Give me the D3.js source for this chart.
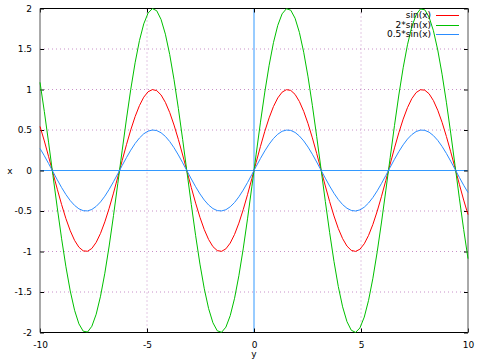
<!DOCTYPE html>
<html><head><meta charset="utf-8">
<script src="https://cdn.jsdelivr.net/npm/d3@7"></script>
<style>html,body{margin:0;padding:0;background:#fff;}svg{display:block;}</style>
</head><body>
<script>
const xs = [-10.000,-9.798,-9.596,-9.394,-9.192,-8.990,-8.788,-8.586,-8.384,-8.182,
-7.980,-7.778,-7.576,-7.374,-7.172,-6.970,-6.768,-6.566,-6.364,-6.162,
-5.960,-5.758,-5.556,-5.354,-5.152,-4.949,-4.747,-4.545,-4.343,-4.141,
-3.939,-3.737,-3.535,-3.333,-3.131,-2.929,-2.727,-2.525,-2.323,-2.121,
-1.919,-1.717,-1.515,-1.313,-1.111,-0.909,-0.707,-0.505,-0.303,-0.101,
0.101,0.303,0.505,0.707,0.909,1.111,1.313,1.515,1.717,1.919,
2.121,2.323,2.525,2.727,2.929,3.131,3.333,3.535,3.737,3.939,
4.141,4.343,4.545,4.747,4.949,5.152,5.354,5.556,5.758,5.960,
6.162,6.364,6.566,6.768,6.970,7.172,7.374,7.576,7.778,7.980,
8.182,8.384,8.586,8.788,8.990,9.192,9.394,9.596,9.798,10.000];

const sinValues = [0.544,0.365,0.170,-0.031,-0.231,-0.421,-0.595,-0.744,-0.863,-0.947,
-0.992,-0.997,-0.962,-0.887,-0.776,-0.634,-0.466,-0.279,-0.080,0.121,
0.318,0.502,0.665,0.801,0.905,0.972,0.999,0.986,0.933,0.841,
0.716,0.561,0.384,0.191,-0.010,-0.211,-0.403,-0.578,-0.730,-0.852,
-0.940,-0.989,-0.998,-0.967,-0.896,-0.789,-0.650,-0.484,-0.298,-0.101,
0.101,0.298,0.484,0.650,0.789,0.896,0.967,0.998,0.989,0.940,
0.852,0.730,0.578,0.403,0.211,0.010,-0.191,-0.384,-0.561,-0.716,
-0.841,-0.933,-0.986,-0.999,-0.972,-0.905,-0.801,-0.665,-0.502,-0.318,
-0.121,0.080,0.279,0.466,0.634,0.776,0.887,0.962,0.997,0.992,
0.947,0.863,0.744,0.595,0.421,0.231,0.031,-0.170,-0.365,-0.544];

const twoSinValues = [1.088,0.729,0.341,-0.062,-0.462,-0.843,-1.189,-1.488,-1.726,-1.893,
-1.984,-1.994,-1.923,-1.774,-1.552,-1.268,-0.932,-0.557,-0.161,0.243,
0.636,1.003,1.330,1.603,1.810,1.944,1.999,1.972,1.865,1.683,
1.432,1.122,0.767,0.381,-0.021,-0.421,-0.805,-1.156,-1.460,-1.705,
-1.880,-1.979,-1.997,-1.934,-1.792,-1.578,-1.299,-0.968,-0.597,-0.202,
0.202,0.597,0.968,1.299,1.578,1.792,1.934,1.997,1.979,1.880,
1.705,1.460,1.156,0.805,0.421,0.021,-0.381,-0.767,-1.122,-1.432,
-1.683,-1.865,-1.972,-1.999,-1.944,-1.810,-1.603,-1.330,-1.003,-0.636,
-0.243,0.161,0.557,0.932,1.268,1.552,1.774,1.923,1.994,1.984,
1.893,1.726,1.488,1.189,0.843,0.462,0.062,-0.341,-0.729,-1.088];

const halfSinValues = [0.272,0.182,0.085,-0.015,-0.115,-0.211,-0.297,-0.372,-0.431,-0.473,
-0.496,-0.499,-0.481,-0.443,-0.388,-0.317,-0.233,-0.139,-0.040,0.061,
0.159,0.251,0.333,0.401,0.453,0.486,0.500,0.493,0.466,0.421,
0.358,0.281,0.192,0.095,-0.005,-0.105,-0.201,-0.289,-0.365,-0.426,
-0.470,-0.495,-0.499,-0.484,-0.448,-0.395,-0.325,-0.242,-0.149,-0.050,
0.050,0.149,0.242,0.325,0.395,0.448,0.484,0.499,0.495,0.470,
0.426,0.365,0.289,0.201,0.105,0.005,-0.095,-0.192,-0.281,-0.358,
-0.421,-0.466,-0.493,-0.500,-0.486,-0.453,-0.401,-0.333,-0.251,-0.159,
-0.061,0.040,0.139,0.233,0.317,0.388,0.443,0.481,0.499,0.496,
0.473,0.431,0.372,0.297,0.211,0.115,0.015,-0.085,-0.182,-0.272];

const seriesNames = ["sin(x)", "2*sin(x)", "0.5*sin(x)"];
const xTickValues = [-10, -5, 0, 5, 10];
const xTickLabels = ["-10", "-5", "0", "5", "10"];
const yTickValues = [-2, -1.5, -1, -0.5, 0, 0.5, 1, 1.5, 2];
const yTickLabels = ["-2", "-1.5", "-1", "-0.5", "0", "0.5", "1", "1.5", "2"];
const xAxisTitle = "y";
const yAxisTitle = "x";

const W = 480, H = 360;
const FONT = "'DejaVu Sans', sans-serif";
const colors = ["#ff0000", "#00c000", "#2a8cff"];
const seriesData = [sinValues, twoSinValues, halfSinValues];
const legendItems = seriesNames.map((name, k) => ({ name: name, color: colors[k], row: k }));

const svg = d3.select("body").append("svg").attr("width", W).attr("height", H)
  .style("font-family", FONT).style("font-size", "9px");

const x = d3.scaleLinear().domain([-10, 10]).range([40, 468]);
const y = d3.scaleLinear().domain([-2, 2]).range([332.5, 8.5]);
const [x0, x1] = x.range();
const [yb, yt] = y.range();

// grid (dotted)
const grid = svg.append("g");
grid.selectAll("line.gx").data(xTickValues.filter(v => v !== -10 && v !== 10 && v !== 0))
  .join("line").attr("class", "gx").attr("x1", d => x(d)).attr("x2", d => x(d)).attr("y1", yt).attr("y2", yb)
  .attr("stroke", "#c890c8").attr("stroke-width", 1).attr("stroke-dasharray", "1,3");
grid.selectAll("line.gy").data(yTickValues.filter(v => v !== -2 && v !== 2 && v !== 0))
  .join("line").attr("class", "gy").attr("x1", x0).attr("x2", x1).attr("y1", d => y(d)).attr("y2", d => y(d))
  .attr("stroke", "#c890c8").attr("stroke-width", 1).attr("stroke-dasharray", "1,3");

// zero axes
svg.append("line").attr("x1", x0).attr("x2", x1).attr("y1", y(0)).attr("y2", y(0))
  .attr("stroke", "#3399ff").attr("stroke-width", 1);
svg.append("line").attr("x1", x(0)).attr("x2", x(0)).attr("y1", yt).attr("y2", yb)
  .attr("stroke", "#3399ff").attr("stroke-width", 1);

// axes via d3 axis generators (inward ticks, labels)
const xAxis = d3.axisBottom(x).tickValues(xTickValues).tickSize(-4).tickPadding(9)
  .tickFormat((d, i) => xTickLabels[i]);
const gx = svg.append("g").attr("transform", `translate(0,${yb})`).call(xAxis);
gx.select(".domain").remove();
gx.selectAll("line").attr("stroke", "#000");
gx.selectAll("text").attr("fill", "#000").style("font-family", FONT).style("font-size", "9px");

const xAxisTop = d3.axisTop(x).tickValues(xTickValues).tickSize(-4).tickFormat("");
const gxt = svg.append("g").attr("transform", `translate(0,${yt})`).call(xAxisTop);
gxt.select(".domain").remove();
gxt.selectAll("line").attr("stroke", "#000");

const yAxis = d3.axisLeft(y).tickValues(yTickValues).tickSize(-4).tickPadding(8)
  .tickFormat((d, i) => yTickLabels[i]);
const gy = svg.append("g").attr("transform", `translate(${x0},0)`).call(yAxis);
gy.select(".domain").remove();
gy.selectAll("line").attr("stroke", "#000");
gy.selectAll("text").attr("fill", "#000").style("font-family", FONT).style("font-size", "9px");

const yAxisRight = d3.axisRight(y).tickValues(yTickValues).tickSize(-4).tickFormat("");
const gyr = svg.append("g").attr("transform", `translate(${x1},0)`).call(yAxisRight);
gyr.select(".domain").remove();
gyr.selectAll("line").attr("stroke", "#000");

// frame
svg.append("line").attr("x1", x0).attr("x2", x1).attr("y1", yt).attr("y2", yt).attr("stroke", "#000");
svg.append("line").attr("x1", x0).attr("x2", x1).attr("y1", yb).attr("y2", yb).attr("stroke", "#000");
svg.append("line").attr("x1", x0).attr("x2", x0).attr("y1", yt).attr("y2", yb).attr("stroke", "#555");
svg.append("line").attr("x1", x1).attr("x2", x1).attr("y1", yt).attr("y2", yb).attr("stroke", "#555");

// curves
const line = d3.line().x((d, i) => x(xs[i])).y(d => y(d));
svg.append("g").selectAll("path").data(seriesData).join("path")
  .attr("d", d => line(d)).attr("fill", "none")
  .attr("stroke", (d, i) => colors[i]).attr("stroke-width", 1);

// legend
const legend = svg.append("g");
legend.selectAll("text.lt").data(legendItems).join("text").attr("class", "lt")
  .attr("x", 431).attr("y", d => 15 + d.row * 9.5).attr("dy", "0.35em")
  .attr("text-anchor", "end").attr("fill", "#000").text(d => d.name);
legend.selectAll("rect.ll").data(legendItems).join("rect").attr("class", "ll")
  .attr("x", 436).attr("width", 23)
  .attr("y", d => Math.round(15 + d.row * 9.5)).attr("height", 1)
  .attr("fill", d => d.color).attr("stroke", "none");

// axis titles
svg.append("text").attr("x", 10).attr("y", y(0)).attr("dy", "0.35em")
  .attr("text-anchor", "middle").attr("fill", "#000").text(yAxisTitle);
svg.append("text").attr("x", x(0)).attr("y", 354).attr("dy", "0.35em")
  .attr("text-anchor", "middle").attr("fill", "#000").text(xAxisTitle);
</script>
</body></html>
